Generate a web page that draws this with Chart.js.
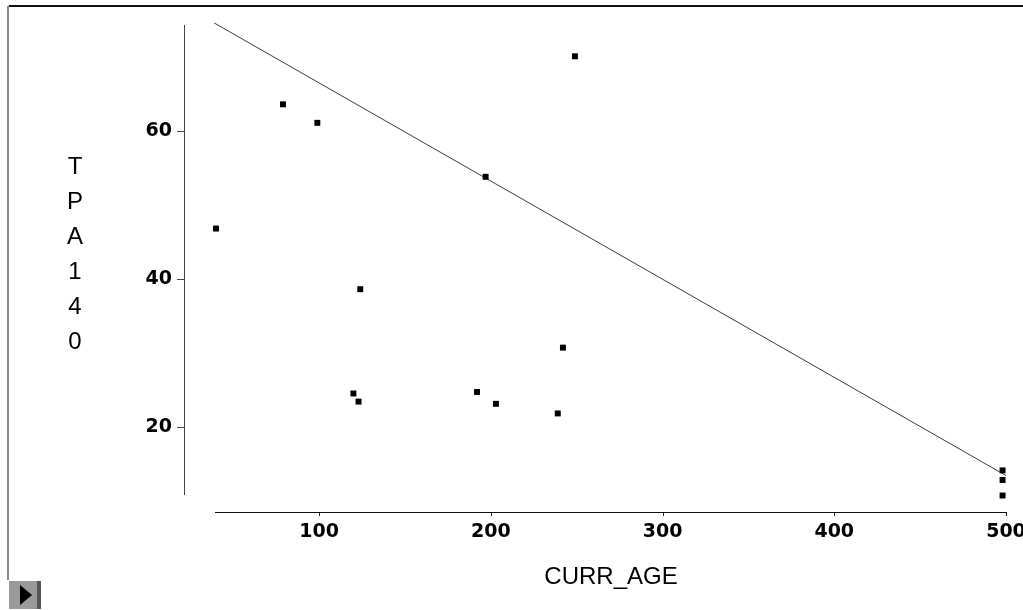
<!DOCTYPE html>
<html>
<head>
<meta charset="utf-8">
<script src="https://cdn.jsdelivr.net/npm/chart.js"></script>
<style>
  body { margin: 0; overflow: hidden; background: #fff; }
</style>
</head>
<body>
<canvas id="my-chart" width="1040" height="610"></canvas>
<script>
// punti
const ageValues = [40, 79, 99, 124, 120, 123, 192, 203, 197, 249, 242, 239, 498, 498, 498];
const tpaValues = [46.8, 63.6, 61.1, 38.6, 24.5, 23.4, 24.7, 23.1, 53.8, 70.1, 30.7, 21.8, 14.1, 12.8, 10.7];

// retta di regressione (estremi)
const fitX = [39, 500];
const fitY = [74.6, 13.4];

const xTicks = [100, 200, 300, 400, 500];
const yTicks = [20, 40, 60];

const xTitle = "CURR_AGE";
const yTitle = "TPA140";

const points = ageValues.map((v, i) => ({ x: v, y: tpaValues[i] }));
const fitLine = fitX.map((v, i) => ({ x: v, y: fitY[i] }));

const tickFont = { family: "DejaVu Sans", size: 19, weight: "bold" };

/* assi staccati + cornice */
const axesPlugin = {
  id: "axesPlugin",
  beforeDraw(chart) {
    const ctx = chart.ctx;
    ctx.save();
    ctx.fillStyle = "#fff";
    ctx.fillRect(0, 0, chart.width, chart.height);
    // cornice finestra
    ctx.fillStyle = "#111";
    ctx.fillRect(9, 5, chart.width, 2);
    ctx.fillStyle = "#888";
    ctx.fillRect(7, 6, 2, 574);
    // bottoncino
    ctx.fillStyle = "#9a9a9a";
    ctx.fillRect(9, 581, 32, 28);
    ctx.fillStyle = "#555";
    ctx.fillRect(37, 581, 4, 28);
    ctx.fillStyle = "#000";
    ctx.beginPath();
    ctx.moveTo(20, 585);
    ctx.lineTo(32, 595);
    ctx.lineTo(20, 605);
    ctx.closePath();
    ctx.fill();
    ctx.restore();
  },
  afterDraw(chart) {
    const ctx = chart.ctx;
    const area = chart.chartArea;
    const xs = chart.scales.x;
    const ys = chart.scales.y;
    ctx.save();
    // asse y
    ctx.strokeStyle = "#444";
    ctx.lineWidth = 1;
    ctx.beginPath();
    ctx.moveTo(184.5, area.top + 2);
    ctx.lineTo(184.5, area.bottom - 2);
    yTicks.forEach(v => {
      const p = Math.round(ys.getPixelForValue(v)) + 0.5;
      ctx.moveTo(177, p);
      ctx.lineTo(184, p);
    });
    ctx.stroke();
    // asse x
    ctx.strokeStyle = "#111";
    ctx.beginPath();
    ctx.moveTo(area.left - 1, 512.5);
    ctx.lineTo(area.right + 1, 512.5);
    xTicks.forEach(v => {
      const p = Math.round(xs.getPixelForValue(v)) + 0.5;
      ctx.moveTo(p, 512);
      ctx.lineTo(p, 516);
    });
    ctx.stroke();
    // titolo verticale lettera per lettera
    ctx.fillStyle = "#000";
    ctx.font = "24px 'Liberation Sans'";
    ctx.textAlign = "center";
    ctx.textBaseline = "middle";
    yTitle.split("").forEach((c, i) => {
      ctx.fillText(c, 75, 167 + i * 35);
    });
    ctx.restore();
  },
};

const myChart = document.getElementById("my-chart");

new Chart(myChart, {
  type: "scatter",
  data: {
    datasets: [
      {
        label: "TPA140",
        data: points,
        pointStyle: "rect",
        pointRadius: 4.2,
        pointBorderWidth: 0,
        backgroundColor: "#000",
        borderColor: "#000",
        clip: false,
      },
      {
        type: "line",
        label: "fit",
        data: fitLine,
        borderColor: "#3a3a3a",
        borderWidth: 1,
        pointRadius: 0,
        fill: false,
        clip: false,
      },
    ],
  },
  options: {
    responsive: false,
    animation: false,
    layout: {
      padding: { top: 23, right: 34, bottom: 0, left: 0 },
    },
    plugins: {
      legend: { display: false },
      tooltip: { enabled: false },
    },
    scales: {
      x: {
        type: "linear",
        min: 40,
        max: 500,
        afterBuildTicks: s => { s.ticks = xTicks.map(v => ({ value: v })); },
        afterFit: s => {
          s.height = 113;
          s.paddingLeft = 0;
          s.paddingRight = 0;
        },
        grid: { display: false, drawTicks: false },
        border: { display: false },
        ticks: { color: "#000", font: tickFont, padding: 24, maxRotation: 0 },
        title: {
          display: true,
          text: xTitle,
          color: "#000",
          font: { family: "Liberation Sans", size: 24 },
          padding: { top: 0, bottom: 18 },
        },
      },
      y: {
        type: "linear",
        min: 10.5,
        max: 74.6,
        afterBuildTicks: s => { s.ticks = yTicks.map(v => ({ value: v })); },
        afterFit: s => {
          s.width = 216;
          s.paddingTop = 0;
          s.paddingBottom = 0;
        },
        grid: { display: false, drawTicks: false },
        border: { display: false },
        ticks: { color: "#000", font: tickFont, padding: 44 },
      },
    },
  },
  plugins: [axesPlugin],
});
</script>
</body>
</html>
